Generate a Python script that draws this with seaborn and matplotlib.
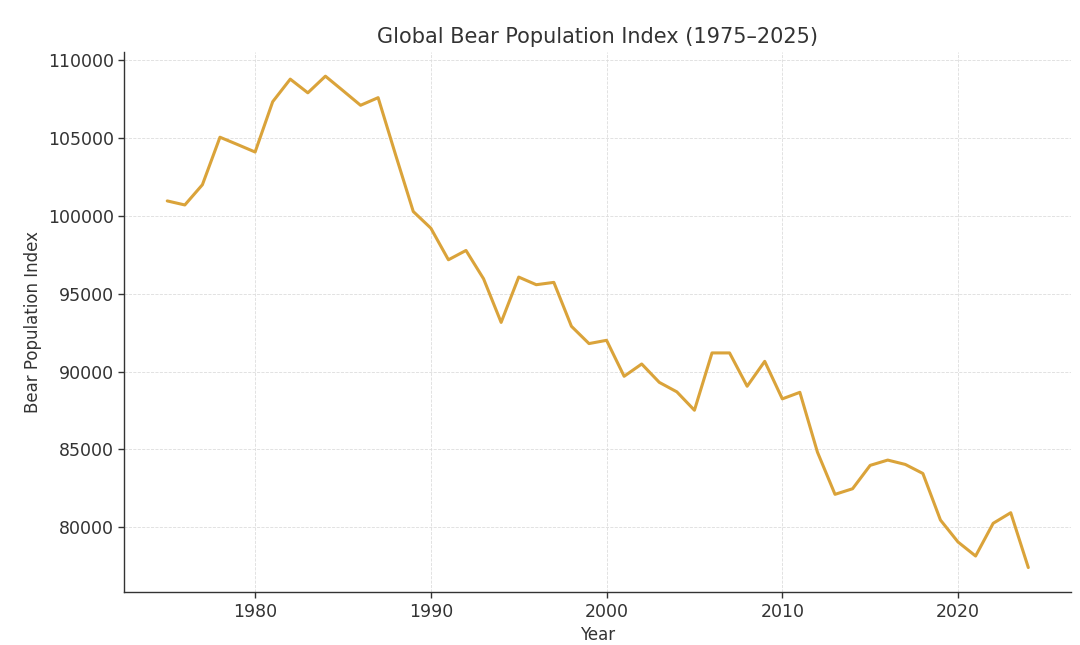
import numpy as np
import pandas as pd
import seaborn as sns
import matplotlib.pyplot as plt

# 연도별 곰 개체수 지수
years = list(range(1975, 2025))
population = [
    100960, 100700, 102000, 105050, 104580, 104100, 107330, 108780, 107900, 108970,
    108040, 107100, 107590, 103900, 100280, 99210, 97180, 97780, 95960, 93160,
    96070, 95580, 95730, 92910, 91800, 92010, 89700, 90490, 89310, 88700,
    87520, 91200, 91200, 89060, 90660, 88250, 88670, 84830, 82120, 82480,
    83980, 84320, 84040, 83460, 80470, 79060, 78160, 80260, 80940, 77420,
]

df = pd.DataFrame({"Year": years, "Bear Population Index": population})

sns.set_style("whitegrid", {"grid.linestyle": "--", "grid.color": "#dddddd",
                            "axes.edgecolor": "#333333"})
plt.rcParams["font.family"] = ["DejaVu Sans"]
plt.rcParams["text.color"] = "#333333"
plt.rcParams["axes.labelcolor"] = "#333333"
plt.rcParams["xtick.color"] = "#333333"
plt.rcParams["ytick.color"] = "#333333"

fig, ax = plt.subplots(figsize=(10.8, 6.45), dpi=100)
sns.lineplot(data=df, x="Year", y="Bear Population Index", color="#DAA33A",
             linewidth=2.2, ax=ax)

ax.set_title("Global Bear Population Index (1975–2025)", fontsize=15)
ax.set_xlabel("Year", fontsize=12)
ax.set_ylabel("Bear Population Index", fontsize=12)
ax.tick_params(axis="both", labelsize=12.5, length=4, width=1, left=True, bottom=True)
ax.grid(True, linestyle="--", linewidth=0.6, color="#dddddd")
sns.despine(ax=ax)
for s in ["left", "bottom"]:
    ax.spines[s].set_color("#333333")
    ax.spines[s].set_linewidth(1.0)

plt.subplots_adjust(left=0.115, right=0.992, top=0.92, bottom=0.082)
plt.savefig("out.png", dpi=100)
